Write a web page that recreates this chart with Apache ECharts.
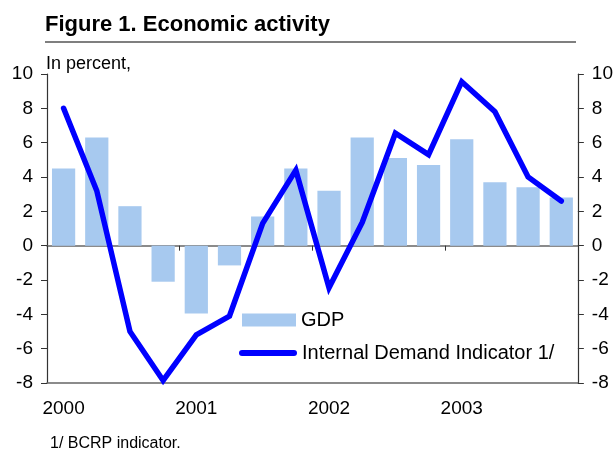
<!DOCTYPE html>
<html>
<head>
<meta charset="utf-8">
<script src="https://cdn.jsdelivr.net/npm/echarts@6/dist/echarts.min.js"></script>
<style>
html,body{margin:0;padding:0;background:#fff;}
#chart{width:616px;height:450px;}
</style>
</head>
<body>
<div id="chart"></div>
<script>
var categories = ['2000Q1','2000Q2','2000Q3','2000Q4','2001Q1','2001Q2','2001Q3','2001Q4','2002Q1','2002Q2','2002Q3','2002Q4','2003Q1','2003Q2','2003Q3','2003Q4'];
var yearLabels = ['2000','','','','2001','','','','2002','','','','2003','','',''];
var gdp = [4.5, 6.3, 2.3, -2.1, -3.95, -1.15, 1.7, 4.5, 3.2, 6.3, 5.1, 4.7, 6.2, 3.7, 3.4, 2.8];
var demand = [8.0, 3.2, -5.0, -7.85, -5.2, -4.1, 1.3, 4.4, -2.45, 1.35, 6.55, 5.3, 9.55, 7.8, 4.0, 2.6];
var yMin = -8, yMax = 10, yStep = 2;

var FONT = '"Liberation Sans", Arial, sans-serif';
var chart = echarts.init(document.getElementById('chart'), null, {renderer: 'canvas'});
chart.setOption({
  backgroundColor: '#fff',
  animation: false,
  textStyle: {fontFamily: FONT},
  title: {
    text: 'Figure 1. Economic activity',
    left: 40, top: 9,
    textStyle: {fontFamily: FONT, fontWeight: 'bold', fontSize: 22, color: '#000'}
  },
  grid: {left: 47, right: 38, top: 74, bottom: 67},
  legend: [
    {
      left: 237, top: 305, padding: 5,
      itemWidth: 54, itemHeight: 13,
      textStyle: {fontFamily: FONT, fontSize: 20, color: '#000'},
      data: [{name: 'GDP', icon: 'rect'}]
    },
    {
      left: 234, top: 338, padding: 5,
      itemWidth: 58, itemHeight: 6,
      textStyle: {fontFamily: FONT, fontSize: 20, color: '#000'},
      data: [{name: 'Internal Demand Indicator 1/', icon: 'path://M3,0 L55,0 A3,3 0 0 1 55,6 L3,6 A3,3 0 0 1 3,0 Z', itemStyle: {color: '#0000FF'}}]
    }
  ],
  xAxis: [
    {
      type: 'category', data: categories, boundaryGap: true,
      axisLine: {onZero: true, lineStyle: {color: '#666', width: 1.5}},
      axisTick: {show: true, interval: 3, length: 5, inside: false, lineStyle: {color: '#333'}},
      axisLabel: {show: false}
    },
    {
      type: 'category', data: yearLabels, boundaryGap: true, position: 'bottom',
      axisLine: {onZero: false, lineStyle: {color: '#666', width: 1.5}},
      axisTick: {show: false},
      axisLabel: {interval: 0, fontFamily: FONT, fontSize: 19, color: '#000', margin: 16}
    }
  ],
  yAxis: [
    {
      type: 'value', min: yMin, max: yMax, interval: yStep, position: 'left',
      splitLine: {show: false},
      axisLine: {show: true, lineStyle: {color: '#333', width: 1.2}},
      axisTick: {show: true, length: 6, lineStyle: {color: '#333'}},
      axisLabel: {fontFamily: FONT, fontSize: 19, color: '#000', margin: 14}
    },
    {
      type: 'value', min: yMin, max: yMax, interval: yStep, position: 'right',
      splitLine: {show: false},
      axisLine: {show: true, lineStyle: {color: '#333', width: 1.2}},
      axisTick: {show: true, length: 6, lineStyle: {color: '#333'}},
      axisLabel: {fontFamily: FONT, fontSize: 19, color: '#000', margin: 14}
    }
  ],
  series: [
    {
      name: 'GDP', type: 'bar', data: gdp, xAxisIndex: 0, yAxisIndex: 0,
      barCategoryGap: '30%',
      itemStyle: {color: '#A7C9EF'}
    },
    {
      name: 'Internal Demand Indicator 1/', type: 'line', data: demand, xAxisIndex: 0, yAxisIndex: 0,
      symbol: 'none', z: 5,
      lineStyle: {color: '#0000FF', width: 5.5, cap: 'round', join: 'miter'},
      itemStyle: {color: '#0000FF'}
    }
  ],
  graphic: [
    {type: 'line', shape: {x1: 45, y1: 42, x2: 576, y2: 42}, style: {stroke: '#000', lineWidth: 1.2}},
    {type: 'text', left: 46, top: 55, style: {text: 'In percent,', fontFamily: FONT, fontSize: 18, fill: '#000'}},
    {type: 'text', left: 50, top: 436, style: {text: '1/ BCRP indicator.', fontFamily: FONT, fontSize: 16, fill: '#000'}}
  ]
});
</script>
</body>
</html>
